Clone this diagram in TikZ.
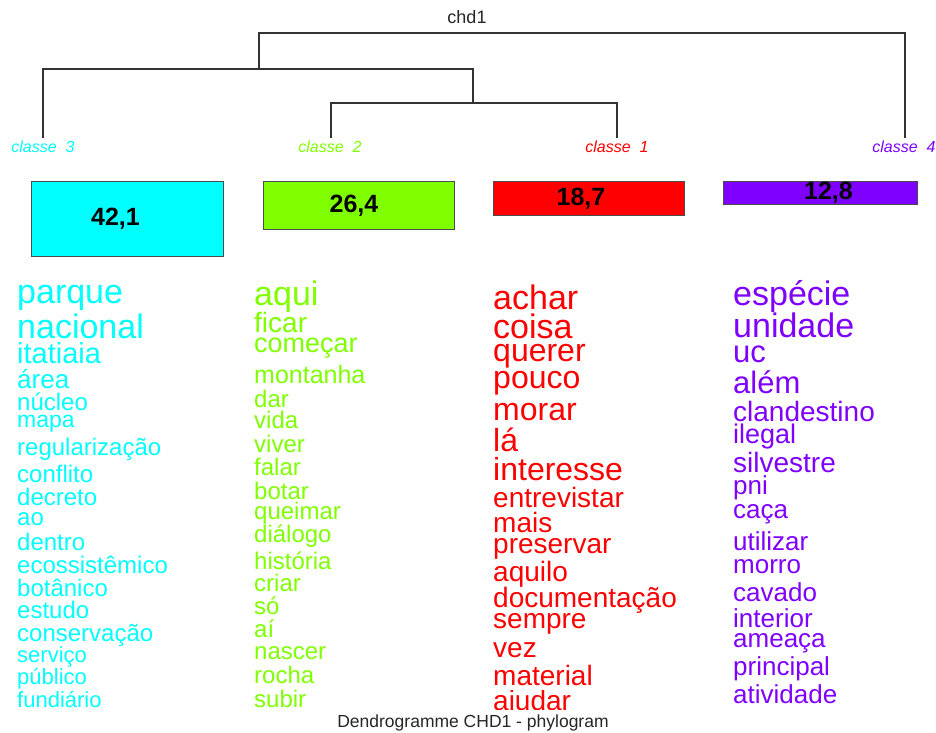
\documentclass[tikz,border=0pt]{standalone}
\usepackage{fontspec}
\setmainfont{Liberation Sans}
\usetikzlibrary{positioning}

\definecolor{cl3}{RGB}{0,255,255}
\definecolor{cl2}{RGB}{128,255,0}
\definecolor{cl1}{RGB}{255,0,0}
\definecolor{cl4}{RGB}{128,0,255}

\tikzset{
  branch/.style={draw=black!80, line width=1.3pt},
  leaf/.style={font=\itshape\fontsize{16}{16}\selectfont, anchor=base, inner sep=0pt},
  pctbox/.style={draw=black!70, line width=1pt, minimum width=192pt, inner sep=0pt, anchor=north west},
  pct/.style={font=\bfseries\fontsize{25}{25}\selectfont, inner sep=0pt},
  word/.style={anchor=base west, inner sep=0pt},
}

\begin{document}
\begin{tikzpicture}[x=1pt,y=-1pt]

    \useasboundingbox[fill=white] (0,0) rectangle (936,732);

    % dendrogram
    \node[anchor=base, font=\fontsize{18}{18}\selectfont, text=black!85] (title) at (467,23) {chd1};

    \node[leaf, text=cl3] (c3) at (43,152) {classe~~3};
    \node[leaf, text=cl2] (c2) at (330,152) {classe~~2};
    \node[leaf, text=cl1] (c1) at (617,152) {classe~~1};
    \node[leaf, text=cl4] (c4) at (904,152) {classe~~4};

    \coordinate (g3) at (43,138);
    \coordinate (g2) at (331,138);
    \coordinate (g1) at (617,138);
    \coordinate (g4) at (905,138);
    \coordinate (j21) at (473,103);
    \coordinate (j321) at (259,69);
    \coordinate (top) at (582,33);

    \draw[branch] (g2) |- (j21) -| (g1);
    \draw[branch] (g3) |- (j321) -| (j21);
    \draw[branch] (j321) |- (top) -| (g4);

    % class sizes
    \node[pctbox, fill=cl3, minimum height=75pt] (b3) at (31,181) {};
    \node[pctbox, fill=cl2, minimum width=191pt, minimum height=48pt] (b2) at (263,181) {};
    \node[pctbox, fill=cl1, minimum width=191pt, minimum height=34pt] (b1) at (493,181) {};
    \node[pctbox, fill=cl4, minimum width=194pt, minimum height=23pt] (b4) at (723,181) {};

    \node[pct] (p3) at ([xshift=-12pt]b3.center) {42,1};
    \node[pct] (p2) at ([xshift=-5pt]b2.center) {26,4};
    \node[pct] (p1) at ([xshift=-8pt]b1.center) {18,7};
    \node[pct] (p4) at ([xshift=8pt]b4.center) {12,8};

    % words of each class
    \foreach \w/\y/\s [count=\i] in {parque/303/34, nacional/338/34, itatiaia/363/29,
        área/388/26, núcleo/410/24, mapa/427/23, regularização/455/24, conflito/482/24,
        decreto/505/24, ao/525/24, dentro/550/24, ecossistêmico/573/24, botânico/596/24,
        estudo/618/24, conservação/641/24, serviço/662/22, público/684/22, fundiário/707/22}
      \node[word, text=cl3, font=\fontsize{\s}{\s}\selectfont] (w3-\i) at (17,\y) {\w};

    \foreach \w/\y/\s [count=\i] in {aqui/305/34, ficar/332/28, começar/352/27,
        montanha/383/25, dar/407/24, vida/428/24, viver/452/24, falar/475/24, botar/499/24,
        queimar/519/24, diálogo/542/24, história/569/24, criar/591/24, só/614/24, aí/637/24,
        nascer/659/24, rocha/683/24, subir/707/24}
      \node[word, text=cl2, font=\fontsize{\s}{\s}\selectfont] (w2-\i) at (254,\y) {\w};

    \foreach \w/\y/\s [count=\i] in {achar/309/34, coisa/338/34, querer/361/32,
        pouco/388/32, morar/420/32, lá/451/32, interesse/480/32, entrevistar/507/28,
        mais/532/28, preservar/553/28, aquilo/581/28, documentação/607/28, sempre/628/28,
        vez/657/28, material/685/28}
      \node[word, text=cl1, font=\fontsize{\s}{\s}\selectfont] (w1-\i) at (493,\y) {\w};
    \begin{scope}
      \clip (480,690) rectangle (720,709);
      \node[word, text=cl1, font=\fontsize{28}{28}\selectfont] (w1-16) at (493,710) {ajudar};
    \end{scope}

    \foreach \w/\y/\s [count=\i] in {espécie/305/34, unidade/337/34, uc/362/31,
        além/393/31, clandestino/421/28, ilegal/443/27, silvestre/472/28, pni/494/26,
        caça/518/26, utilizar/550/26, morro/573/26, cavado/601/26, interior/627/26,
        ameaça/647/26, principal/675/26, atividade/703/26}
      \node[word, text=cl4, font=\fontsize{\s}{\s}\selectfont] (w4-\i) at (733,\y) {\w};

    \node[anchor=base, font=\fontsize{17.5}{17.5}\selectfont, text=black!85] (cap) at (473,727) {Dendrogramme CHD1 - phylogram};

\end{tikzpicture}
\end{document}
